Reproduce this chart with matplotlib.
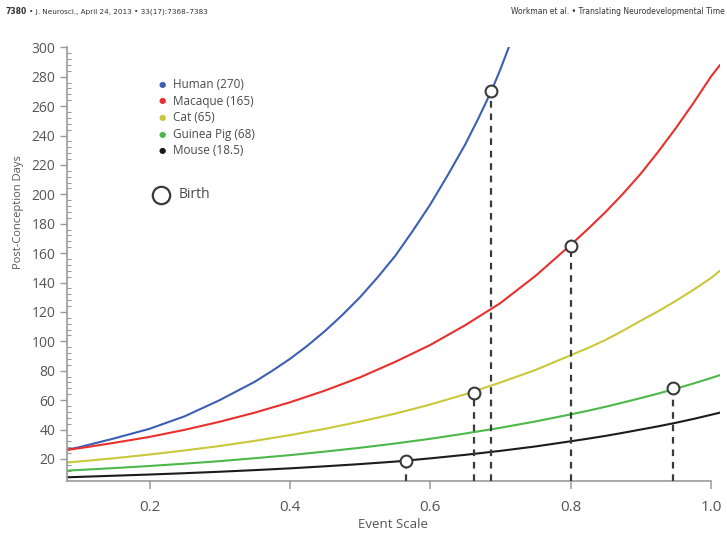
import matplotlib
matplotlib.use("Agg")
import matplotlib.pyplot as plt
from matplotlib.ticker import MultipleLocator

plt.rcParams['font.family'] = ['Open Sans', 'DejaVu Sans']

# ---- data ----
species = ["Human", "Macaque", "Cat", "Guinea Pig", "Mouse"]
gestation = [270, 165, 65, 68, 18.5]
colors = ["#3c5fb4", "#e8302c", "#c9c83a", "#4cb84a", "#1c1c1c"]

x_full = [0.08, 0.10, 0.15, 0.20, 0.25, 0.30, 0.35, 0.40, 0.45, 0.50, 0.55,
          0.60, 0.65, 0.70, 0.75, 0.80, 0.825, 0.85, 0.875, 0.90, 0.925,
          0.95, 0.975, 1.00, 1.013]
x_human = [0.08, 0.10, 0.15, 0.20, 0.25, 0.30, 0.35, 0.375, 0.40, 0.425,
           0.45, 0.475, 0.50, 0.525, 0.55, 0.575, 0.60, 0.625, 0.65, 0.669,
           0.687, 0.70, 0.712]

human = [26, 28, 34, 40.5, 49, 60, 72.5, 80, 88, 97, 107, 118, 130, 143.5,
         158, 175, 193, 213, 234, 252, 270, 285, 300]
macaque = [26, 27.3, 31, 35, 39.8, 45.3, 51.5, 58.5, 66.5, 75.5, 86, 97.5, 111,
           126, 144.5, 165.5, 176.5, 188, 200.5, 214, 229, 245, 262, 280, 288]
cat = [17.5, 18.3, 20.5, 23, 25.8, 28.8, 32.3, 36.2, 40.5, 45.4, 50.8, 57, 64,
       72, 80.5, 90.5, 95.5, 101, 107.3, 114, 120.5, 127.5, 135, 143, 148]
guinea_pig = [12, 12.5, 13.8, 15.2, 16.8, 18.5, 20.5, 22.6, 25, 27.6, 30.5,
              33.7, 37.3, 41.2, 45.5, 50.3, 52.8, 55.5, 58.4, 61.4, 64.5,
              67.8, 71.3, 75, 77]
mouse = [7.5, 7.8, 8.6, 9.4, 10.3, 11.3, 12.4, 13.6, 15, 16.5, 18.2, 20.4,
         22.8, 25.5, 28.5, 32, 33.8, 35.7, 37.8, 40, 42.2, 44.6, 47.2, 50, 51.5]

birth_x = [0.687, 0.800, 0.663, 0.946, 0.566]

series_x = [x_human, x_full, x_full, x_full, x_full]
series_y = [human, macaque, cat, guinea_pig, mouse]

# ---- figure ----
W, H = 727, 539
fig = plt.figure(figsize=(W / 100, H / 100), dpi=100)
ax = fig.add_axes([66.7 / W, 1 - 481 / H, (720 - 66.7) / W, (481 - 47.3) / H])

for xs, ys, c in zip(series_x, series_y, colors):
    ax.plot(xs, ys, color=c, lw=1.5, solid_capstyle='round',
            solid_joinstyle='round', zorder=2)

ax.set_xlim(0.082, 1.013)
ax.set_ylim(5, 300)
ymin = ax.get_ylim()[0]

for bx, by in zip(birth_x, gestation):
    ax.vlines(bx, ymin, by, colors="#3a3a3a", lw=1.6,
              linestyles=(0, (3, 2.6)), zorder=3)
    ax.plot([bx], [by], marker='o', ms=8.5, mfc='white', mec='#3a3a3a',
            mew=1.5, zorder=4, clip_on=False)

# spines and ticks
for s in ["top", "right"]:
    ax.spines[s].set_visible(False)
for s in ["left", "bottom"]:
    ax.spines[s].set_color("#9a9a9a")
    ax.spines[s].set_linewidth(1.2)
ax.spines["bottom"].set_bounds(0.082, 1.0)

ax.set_xticks([0.2, 0.4, 0.6, 0.8, 1.0])
ax.set_xticklabels(["0.2", "0.4", "0.6", "0.8", "1.0"])
ax.set_yticks(list(range(20, 301, 20)))
ax.yaxis.set_minor_locator(MultipleLocator(4))
ax.tick_params(axis='x', which='major', direction='out', length=6, width=1.1,
               color="#9a9a9a", labelsize=11, labelcolor="#555555", pad=8)
ax.tick_params(axis='y', which='major', direction='out', length=5, width=1.0,
               color="#9a9a9a", labelsize=10, labelcolor="#555555", pad=3)
ax.tick_params(axis='y', which='minor', direction='in', length=3, width=0.8,
               color="#9a9a9a")

ax.set_xlabel("Event Scale", fontsize=9.5, color="#555555", labelpad=2)
ax.set_ylabel("Post-Conception Days", fontsize=8, color="#555555")
ax.yaxis.set_label_coords(-0.066, 0.62)

# legend (drawn as text)
leg_y = [84.3, 101, 117.7, 134.3, 151]
for name, g, c, py in zip(species, gestation, colors, leg_y):
    fig.text(162.3 / W, 1 - py / H, "\u25CF", color=c, fontsize=6,
             ha='center', va='center', family=['DejaVu Sans'])
    lbl = f"{name} ({g:g})"
    fig.text(173 / W, 1 - py / H, lbl, color="#4a4a4a", fontsize=8.5,
             ha='left', va='center')

fig.add_artist(plt.Line2D([160.7 / W], [1 - 195 / H], marker='o', ms=12.5,
                          mfc='white', mec='#3a3a3a', mew=1.6,
                          transform=fig.transFigure))
fig.text(179 / W, 1 - 195 / H, "Birth", color="#4a4a4a", fontsize=10,
         ha='left', va='center')

# header
hdr_font = ['Liberation Sans Narrow', 'DejaVu Sans']
fig.text(5 / W, 1 - 12 / H, "7380", fontsize=5.5, fontweight='bold',
         color="#333333", ha='left', va='center', family=hdr_font)
fig.text(29 / W, 1 - 12 / H,
         "\u2022 J. Neurosci., April 24, 2013 \u2022 33(17):7368\u20137383",
         fontsize=5.2, color="#333333", ha='left', va='center', family=hdr_font)
fig.text(725 / W, 1 - 12 / H,
         "Workman et al. \u2022 Translating Neurodevelopmental Time",
         fontsize=5.5, color="#333333", ha='right', va='center', family=hdr_font)

fig.savefig("out.png", dpi=100)
